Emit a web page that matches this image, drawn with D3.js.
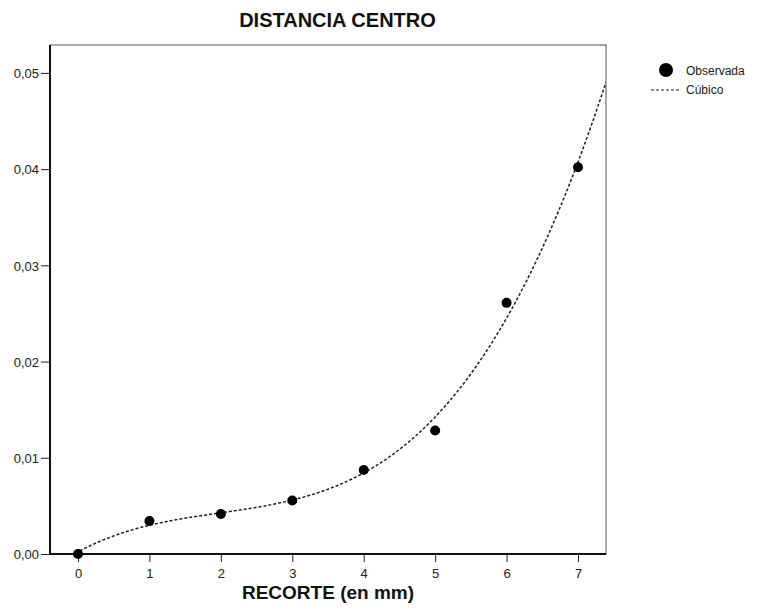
<!DOCTYPE html>
<html><head><meta charset="utf-8">
<script src="https://cdn.jsdelivr.net/npm/d3@7"></script>
<style>body{margin:0;background:#fff}svg{display:block;font-family:"Liberation Sans",Arial,sans-serif}</style>
</head><body><svg id="c" width="760" height="614"></svg>
<script>
const xValues = [0, 1, 2, 3, 4, 5, 6, 7];
const observed = [0.0000, 0.00343, 0.00416, 0.00556, 0.00873, 0.01284, 0.0261, 0.0402];
const cubicCoef = [0.0002229, 0.0039842, -0.0014708, 0.00024692];
const xTicks = [0, 1, 2, 3, 4, 5, 6, 7];
const yTicks = [0, 0.01, 0.02, 0.03, 0.04, 0.05];
const title = "DISTANCIA CENTRO";
const xTitle = "RECORTE (en mm)";
const legendLabels = ["Observada", "Cúbico"];

const svg = d3.select("#c");
const L = 50, R = 606, T = 45, B = 554;
const x = d3.scaleLinear().domain([-0.392, 7.392]).range([L, R]);
const y = d3.scaleLinear().domain([0, 0.0529]).range([B, T]);
const fmt = d => d3.format(".2f")(d).replace(".", ",");

svg.append("defs").append("clipPath").attr("id", "clip")
  .append("rect").attr("x", L).attr("y", T).attr("width", R - L).attr("height", B - T);

// frame
svg.append("rect").attr("x", L).attr("y", T).attr("width", R - L).attr("height", B - T)
  .attr("fill", "none").attr("stroke", "#555").attr("stroke-width", 1);

// axes
const xa = svg.append("g").attr("transform", `translate(0,${B})`)
  .call(d3.axisBottom(x).tickValues(xTicks).tickSize(8).tickPadding(6).tickFormat(d3.format("d")));
const ya = svg.append("g").attr("transform", `translate(${L},0)`)
  .call(d3.axisLeft(y).tickValues(yTicks).tickSize(9).tickPadding(3).tickFormat(fmt));
[xa, ya].forEach(a => {
  a.select(".domain").remove();
  a.selectAll("line").attr("stroke", "#222").attr("stroke-width", 1);
  a.selectAll("text").attr("font-size", 13).attr("fill", "#222")
    .attr("font-family", "'Liberation Sans', Arial, sans-serif");
});
xa.selectAll("text").attr("dy", null).attr("y", 24);
ya.selectAll("text").attr("x", -11).attr("dy", "0.36em");
svg.append("line").attr("x1", L).attr("x2", L).attr("y1", T).attr("y2", B + 0.5)
  .attr("stroke", "#111").attr("stroke-width", 2);
svg.append("line").attr("x1", L - 0.5).attr("x2", R).attr("y1", B).attr("y2", B)
  .attr("stroke", "#111").attr("stroke-width", 2);

// cubic fit
const cubic = v => cubicCoef.reduce((s, c, i) => s + c * Math.pow(v, i), 0);
const xs = d3.range(0, 501).map(i => x.domain()[0] + (x.domain()[1] - x.domain()[0]) * i / 500);
svg.append("path").attr("clip-path", "url(#clip)")
  .datum(xs)
  .attr("d", d3.line().x(d => x(d)).y(d => y(cubic(d))))
  .attr("fill", "none").attr("stroke", "#222").attr("stroke-width", 1.5)
  .attr("stroke-dasharray", "3,2");

// points
svg.append("g").selectAll("circle").data(xValues).join("circle")
  .attr("cx", (d) => x(d)).attr("cy", (d, i) => y(observed[i])).attr("r", 5)
  .attr("fill", "#000");

// title
svg.append("text").attr("x", 337.5).attr("y", 27).attr("text-anchor", "middle")
  .attr("font-size", 20).attr("font-weight", "bold").attr("fill", "#111").text(title);
svg.append("text").attr("x", 328).attr("y", 599).attr("text-anchor", "middle")
  .attr("font-size", 19).attr("font-weight", "bold").attr("fill", "#111").text(xTitle);

// legend
const lg = svg.append("g");
lg.append("circle").attr("cx", 666).attr("cy", 70).attr("r", 7).attr("fill", "#000");
lg.append("text").attr("x", 686).attr("y", 75).attr("font-size", 12).attr("fill", "#222").text(legendLabels[0]);
lg.append("line").attr("x1", 651).attr("x2", 681).attr("y1", 90).attr("y2", 90)
  .attr("stroke", "#222").attr("stroke-width", 1.2).attr("stroke-dasharray", "3,2");
lg.append("text").attr("x", 686).attr("y", 94).attr("font-size", 12).attr("fill", "#222").text(legendLabels[1]);
</script></body></html>
